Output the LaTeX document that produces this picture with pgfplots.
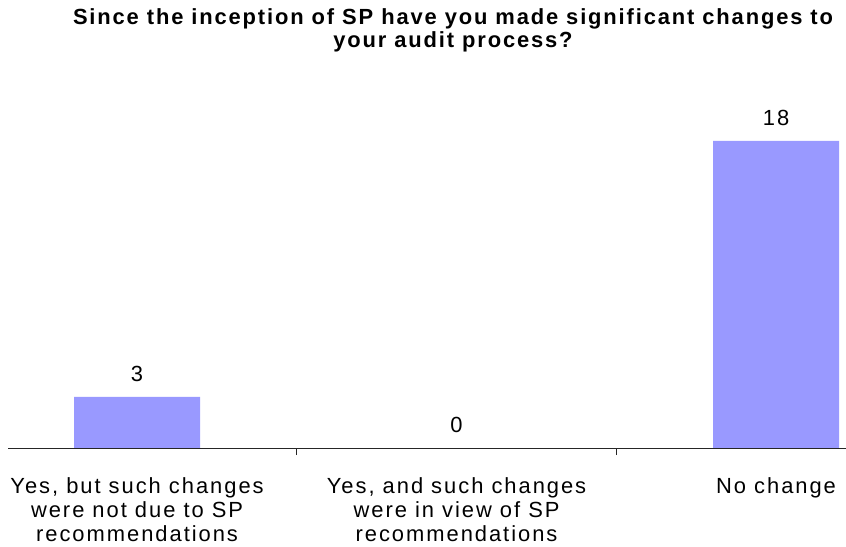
\documentclass[border=0pt]{standalone}
\usepackage{fontspec}
\setmainfont{Liberation Sans}
\newfontfamily\chartfont[LetterSpace=9]{Liberation Sans}
\usepackage{pgfplots}
\pgfplotsset{compat=1.18}
\definecolor{barblue}{HTML}{9999FF}

\begin{document}
\begin{tikzpicture}
\path[use as bounding box] (0,0) rectangle (846bp,547bp);
\begin{axis}[
  at={(8bp,99bp)}, anchor=south west,
  scale only axis, width=838bp, height=341.2bp,
  xmin=-0.404, xmax=2.219, ymin=0, ymax=20, enlargelimits=false,
  ybar, bar width=126bp,
  axis x line*=bottom, axis y line=none,
  x axis line style={line width=1bp, black!85, -},
  xtick={0,1,2},
  xticklabels={{Yes, but such changes\\were not due to SP\\recommendations},
               {Yes, and such changes\\were in view of SP\\recommendations},
               {No change}},
  major tick length=0pt,
  xticklabel style={align=center, inner sep=0pt, yshift=-29bp,
    font=\chartfont\fontsize{22}{24.5}\selectfont},
  extra x ticks={0.5,1.5}, extra x tick labels={},
  extra x tick style={major tick length=7bp, tick align=outside,
    tick style={line width=1bp, black!85}},
  nodes near coords,
  /pgf/number format/assume math mode=true,
  every node near coord/.append style={anchor=south, inner sep=0pt, yshift=15bp,
    font=\chartfont\fontsize{22}{24.5}\selectfont, black},
]
\addplot[fill=barblue, draw=none] coordinates {(0,3) (1,0) (2,18)};
\end{axis}
\node[align=center, font=\bfseries\addfontfeatures{LetterSpace=8.5}\fontsize{22}{23}\selectfont]
  at (453bp,516.5bp) {Since the inception of SP have you made significant changes to\\your audit process?};
\end{tikzpicture}
\end{document}
